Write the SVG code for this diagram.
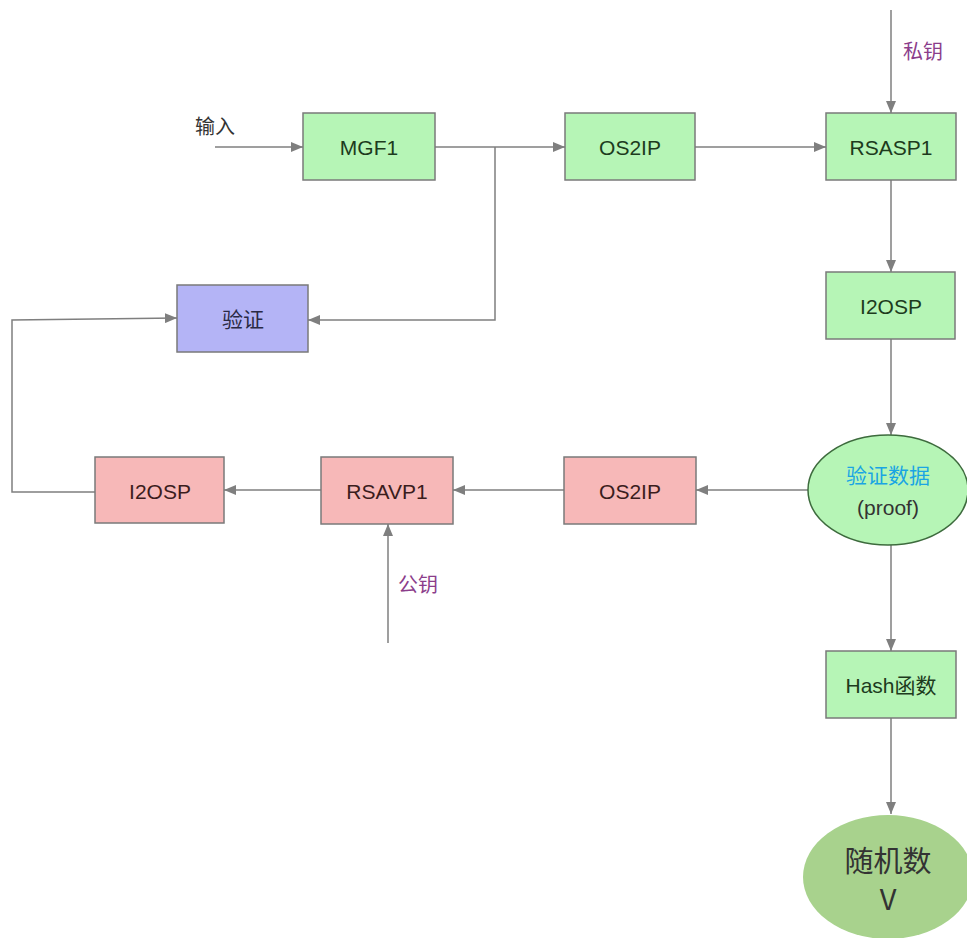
<svg xmlns="http://www.w3.org/2000/svg" width="967" height="938" viewBox="0 0 967 938">
<defs>
<marker id="ah" viewBox="0 0 12 10" refX="12" refY="5" markerWidth="12" markerHeight="10" markerUnits="userSpaceOnUse" orient="auto">
<path d="M0,0 L12,5 L0,10 z" fill="#7f7f7f"/>
</marker>
<style>
.g{fill:#b6f5b6;stroke:#7a7a7a;stroke-width:1.5}
.r{fill:#f7b8b8;stroke:#7a7a7a;stroke-width:1.5}
.b{fill:#b4b4f6;stroke:#7a7a7a;stroke-width:1.5}
.t{font-family:"Liberation Sans","Noto Sans CJK SC",sans-serif;font-size:21px;text-anchor:middle;dominant-baseline:central}
.tg{fill:#1d3b1d}
.tr{fill:#3b1d1d}
.tb{fill:#2a2a44}
.lbl{font-family:"Noto Sans CJK SC",sans-serif;font-size:20px;fill:#8b3d8b}
.c{fill:none;stroke:#7f7f7f;stroke-width:1.5;marker-end:url(#ah)}
</style>
</defs>
<rect width="967" height="938" fill="#ffffff"/>
<g id="connectors">
<path class="c" d="M215,147 L303,147"/>
<path class="c" d="M435,147 L565,147"/>
<path class="c" d="M495,147 L495,320 L308,320"/>
<path class="c" d="M695,147 L826,147"/>
<path class="c" d="M891,10 L891,113"/>
<path class="c" d="M891,180 L891,272"/>
<path class="c" d="M891,339 L891,435"/>
<path class="c" d="M808,490 L696,490"/>
<path class="c" d="M564,490 L453,490"/>
<path class="c" d="M321,490 L224,490"/>
<path class="c" d="M95,492 L12,492 L12,320 L177,318"/>
<path class="c" d="M388,643 L388,524"/>
<path class="c" d="M891,545 L891,651"/>
<path class="c" d="M891,718 L891,814"/>
</g>
<g id="labels">
<text x="195" y="134" class="lbl" style="fill:#333">输入</text>
<text x="903" y="59" class="lbl">私钥</text>
<text x="398" y="592" class="lbl">公钥</text>
</g>
<g id="mgf1"><rect class="g" x="303" y="113" width="132" height="67"/><text class="t tg" x="369" y="147">MGF1</text></g>
<g id="os2ip-top"><rect class="g" x="565" y="113" width="130" height="67"/><text class="t tg" x="630" y="147">OS2IP</text></g>
<g id="rsasp1"><rect class="g" x="826" y="113" width="130" height="67"/><text class="t tg" x="891" y="147">RSASP1</text></g>
<g id="i2osp-right"><rect class="g" x="826" y="272" width="129" height="67"/><text class="t tg" x="891" y="306">I2OSP</text></g>
<g id="verify"><rect class="b" x="177" y="285" width="131" height="67"/><text class="t tb" x="243" y="319">验证</text></g>
<g id="proof"><ellipse cx="888" cy="490" rx="80" ry="55" fill="#b6f5b6" stroke="#3d6b3d" stroke-width="1.5"/><text class="t" x="888" y="475" style="fill:#1aa5e3">验证数据</text><text class="t" x="888" y="507" style="fill:#333">(proof)</text></g>
<g id="os2ip-red"><rect class="r" x="564" y="457" width="132" height="67"/><text class="t tr" x="630" y="491">OS2IP</text></g>
<g id="rsavp1"><rect class="r" x="321" y="457" width="132" height="67"/><text class="t tr" x="387" y="491">RSAVP1</text></g>
<g id="i2osp-left"><rect class="r" x="95" y="457" width="129" height="66"/><text class="t tr" x="160" y="491">I2OSP</text></g>
<g id="hash"><rect class="g" x="826" y="651" width="130" height="67"/><text class="t tg" x="891" y="685">Hash函数</text></g>
<g id="random"><ellipse cx="888" cy="877" rx="85" ry="62" fill="#a8d28d"/><text class="t" x="888" y="859" style="fill:#333;font-size:29px;font-family:'Noto Sans CJK SC',sans-serif">随机数</text><text class="t" x="888" y="897" style="fill:#333;font-size:29px;font-family:'Noto Sans CJK SC',sans-serif">V</text></g>
</svg>
